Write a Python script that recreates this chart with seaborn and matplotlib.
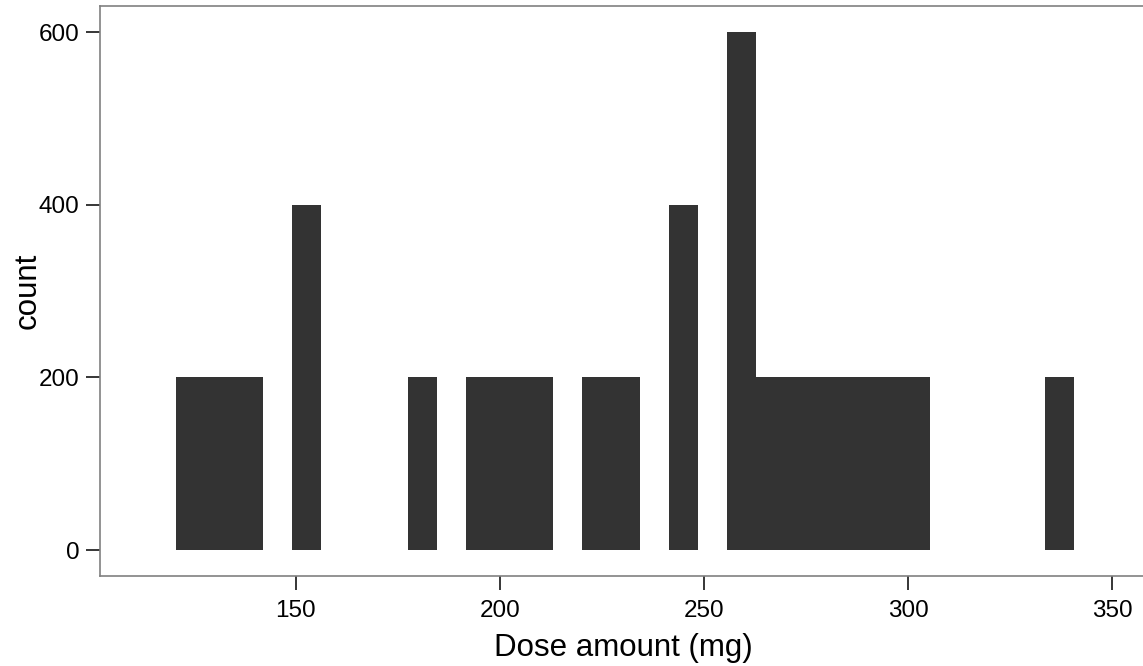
import matplotlib
matplotlib.use("Agg")
import matplotlib.pyplot as plt
import seaborn as sns
import pandas as pd

# Dose levels (mg) and how many records fall at each level
dose_mg = [124.2, 131.3, 138.4, 152.6, 181.0, 195.2, 202.3, 209.4, 223.6, 230.7,
           244.9, 259.1, 266.2, 273.3, 280.4, 287.5, 294.6, 301.7, 337.2]
n_records = [200, 200, 200, 400, 200, 200, 200, 200, 200, 200,
             400, 600, 200, 200, 200, 200, 200, 200, 200]

x_ticks = [150, 200, 250, 300, 350]
y_ticks = [0, 200, 400, 600]

df = pd.DataFrame({"dose": dose_mg, "n": n_records})

sns.set_theme(style="white")
plt.rcParams["font.family"] = ["Liberation Sans", "DejaVu Sans"]

fig = plt.figure(figsize=(11.43, 6.66), dpi=100)
W, H = 1143, 666
left, right, top, bottom = 100, 1146, 6, 576
ax = fig.add_axes([left / W, 1 - bottom / H, (right - left) / W, (bottom - top) / H])

sns.histplot(data=df, x="dose", weights="n", bins=31, binrange=(120.66, 340.76),
             color="#333333", alpha=1, edgecolor="none", linewidth=0, ax=ax)

ax.set_xlim(102.0, 358.3)
ax.set_ylim(-30.1, 630.5)
ax.set_xticks(x_ticks)
ax.set_yticks(y_ticks)
ax.set_xlabel("Dose amount (mg)", fontsize=22.5, color="black", labelpad=8)
ax.set_ylabel("count", fontsize=22.5, color="black", labelpad=-3)
ax.tick_params(axis="both", which="major", direction="out", length=10, width=1.1,
               color="black", labelsize=17.5, labelcolor="black",
               bottom=True, left=True)
ax.tick_params(axis="x", pad=7)
ax.tick_params(axis="y", pad=5)

for side in ["left", "bottom", "top"]:
    ax.spines[side].set_visible(True)
    ax.spines[side].set_color("#808080")
    ax.spines[side].set_linewidth(1.2)
ax.spines["right"].set_visible(False)

fig.savefig("out.png", dpi=100, facecolor="white")
